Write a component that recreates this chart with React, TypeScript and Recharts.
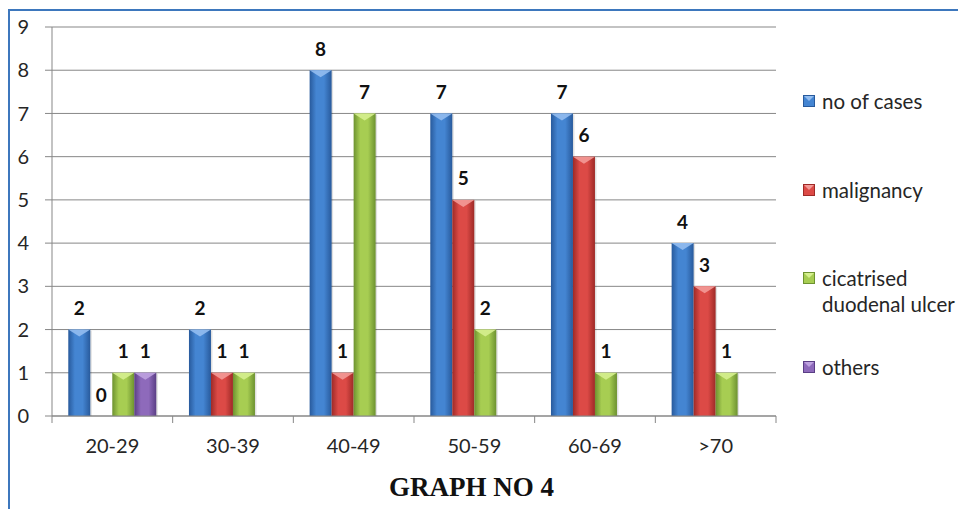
import React from "react";
import {
  BarChart,
  Bar,
  XAxis,
  YAxis,
  CartesianGrid,
  LabelList,
} from "recharts";

const categories = ["20-29", "30-39", "40-49", "50-59", "60-69", ">70"];
const noOfCases = [2, 2, 8, 7, 7, 4];
const malignancy = [0, 1, 1, 5, 6, 3];
const cicatrised = [1, 1, 7, 2, 1, 1];
const others: (number | null)[] = [1, null, null, null, null, null];
const yTicks = [0, 1, 2, 3, 4, 5, 6, 7, 8, 9];

const SERIES = [
  { key: "cases", name: "no of cases", edge: "#285a9c", mid: "#4485d2", top: "#93bdf0" },
  { key: "malignancy", name: "malignancy", edge: "#9e2a27", mid: "#dc4a46", top: "#f39a97" },
  { key: "cicatrised", name: "cicatrised duodenal ulcer", edge: "#6d9230", mid: "#a7cd52", top: "#d6f08f" },
  { key: "others", name: "others", edge: "#5a3e85", mid: "#8e6abb", top: "#bea2e0" },
];

const data = categories.map((category, i) => ({
  category,
  cases: noOfCases[i],
  malignancy: malignancy[i],
  cicatrised: cicatrised[i],
  others: others[i],
}));

const FONT = "Lato, 'Open Sans', sans-serif";
const AXIS_GREY = "#878787";

// bevelled column: horizontal shading plus a light chevron on the cap
function makeShape(s: (typeof SERIES)[number]) {
  return (props: any) => {
    const { x, y, width, height } = props;
    if (!height || height <= 0) return <g />;
    const bevel = Math.min(7, height);
    return (
      <g>
        <rect x={x + 1.5} y={y + 1} width={width} height={height - 1} fill="rgba(0,0,0,0.12)" />
        <rect x={x} y={y} width={width} height={height} fill={`url(#grad-${s.key})`} />
        <polygon
          points={`${x},${y} ${x + width},${y} ${x + width / 2},${y + bevel}`}
          fill={s.top}
          opacity={0.9}
        />
      </g>
    );
  };
}

function ValueLabel(props: any) {
  const { x, y, width, value } = props;
  if (value === null || value === undefined) return null;
  return (
    <text
      x={x + width / 2}
      y={y - 22}
      textAnchor="middle"
      dominantBaseline="central"
      fontFamily={FONT}
      fontWeight={700}
      fontSize={19}
      fill="#111"
    >
      {value}
    </text>
  );
}

function CategoryTick(props: any) {
  const { x, y, payload, index } = props;
  const half = payload.offset || 60.3;
  const last = index === categories.length - 1;
  return (
    <g>
      <line x1={x - half} x2={x - half} y1={y} y2={y + 7} stroke={AXIS_GREY} />
      {last && <line x1={x + half} x2={x + half} y1={y} y2={y + 7} stroke={AXIS_GREY} />}
      <text
        x={x}
        y={y + 29}
        textAnchor="middle"
        dominantBaseline="central"
        fontFamily={FONT}
        fontSize={20}
        fill="#262626"
      >
        {payload.value}
      </text>
    </g>
  );
}

function LegendBox() {
  return (
    <div
      style={{
        position: "absolute",
        left: 803,
        top: 88,
        width: 160,
        fontFamily: FONT,
        fontSize: 20.5,
        color: "#262626",
      }}
    >
      {SERIES.map((s) => (
        <div key={s.key} style={{ height: 88.5, display: "flex", alignItems: "flex-start" }}>
          <svg width={12} height={12} style={{ marginTop: 7, marginRight: 7, flexShrink: 0 }}>
            <rect x={0.5} y={0.5} width={11} height={11} fill={s.mid} stroke={s.edge} strokeWidth={1} />
            <polygon points="1,1 11,1 6,6" fill={s.top} />
          </svg>
          <span style={{ lineHeight: "26px", width: 140, display: "inline-block" }}>{s.name}</span>
        </div>
      ))}
    </div>
  );
}

export default function App() {
  return (
    <div
      style={{
        position: "absolute",
        left: 0,
        top: 0,
        width: 958,
        height: 509,
        overflow: "hidden",
        background: "#fff",
      }}
    >
      <div
        style={{
          position: "absolute",
          left: 8,
          top: 9,
          width: 960,
          height: 520,
          borderTop: "2px solid #3d77bd",
          borderLeft: "2px solid #3d77bd",
        }}
      />
      <BarChart
        width={958}
        height={509}
        data={data}
        margin={{ top: 27, right: 182, bottom: 33, left: 8 }}
        barCategoryGap="13.5%"
        barGap={0}
        style={{ position: "absolute", left: 0, top: 0 }}
      >
        <defs>
          {SERIES.map((s) => (
            <linearGradient key={s.key} id={`grad-${s.key}`} x1="0" y1="0" x2="1" y2="0">
              <stop offset="0%" stopColor={s.edge} />
              <stop offset="30%" stopColor={s.mid} />
              <stop offset="65%" stopColor={s.mid} />
              <stop offset="100%" stopColor={s.edge} />
            </linearGradient>
          ))}
        </defs>
        <CartesianGrid vertical={false} stroke={AXIS_GREY} />
        <XAxis
          dataKey="category"
          height={60}
          interval={0}
          tickSize={0}
          tickMargin={0}
          tickLine={false}
          axisLine={{ stroke: AXIS_GREY }}
          tick={<CategoryTick />}
        />
        <YAxis
          width={44}
          domain={[0, 9]}
          ticks={yTicks}
          interval={0}
          tickSize={7}
          tickMargin={16}
          tickLine={{ stroke: AXIS_GREY }}
          axisLine={{ stroke: AXIS_GREY }}
          tick={{ fill: "#262626", fontSize: 20, fontFamily: FONT }}
        />
        {SERIES.map((s) => (
          <Bar
            key={s.key}
            dataKey={s.key}
            name={s.name}
            fill={s.mid}
            shape={makeShape(s)}
            isAnimationActive={false}
          >
            <LabelList dataKey={s.key} content={<ValueLabel />} />
          </Bar>
        ))}
      </BarChart>
      <LegendBox />
      <div
        style={{
          position: "absolute",
          left: 300,
          width: 343,
          top: 472,
          lineHeight: "30px",
          textAlign: "center",
          fontFamily: "'Liberation Serif', 'Times New Roman', serif",
          fontWeight: 700,
          fontSize: 27,
          color: "#111",
        }}
      >
        GRAPH NO 4
      </div>
    </div>
  );
}
